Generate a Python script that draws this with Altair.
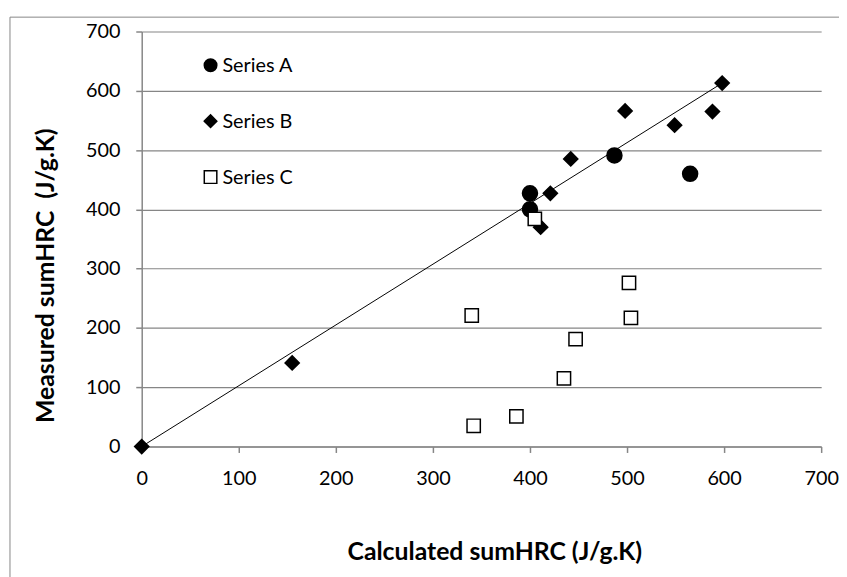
import altair as alt
import pandas as pd

# ---- data ----
series_names = ["Series A", "Series B", "Series C"]
series_shapes = ["circle", "diamond", "square"]
series_fills = ["#000000", "#000000", "#ffffff"]
a_x = [400, 400, 487, 565]
a_y = [427, 400, 491, 460]
b_x = [0, 155, 411, 421, 442, 498, 549, 588, 598]
b_y = [0, 141, 370, 427, 485, 566, 542, 565, 613]
c_x = [405, 340, 342, 386, 435, 447, 502, 504]
c_y = [384, 221, 35, 51, 115, 181, 276, 217]
line_x = [0, 598]
line_y = [0, 613]
tick_values = [0, 100, 200, 300, 400, 500, 600, 700]

rows = []
for name, xs, ys in zip(series_names, [a_x, b_x, c_x], [a_y, b_y, c_y]):
    for xv, yv in zip(xs, ys):
        rows.append({"series": name, "x": xv, "y": yv})
df = pd.DataFrame(rows)
line_df = pd.DataFrame({"x": line_x, "y": line_y})
legend_df = pd.DataFrame({"series": series_names})

FONT = "Lato"
GRAY = "#868686"

x_enc = alt.X(
    "x:Q",
    scale=alt.Scale(domain=[0, 700], nice=False, zero=True),
    axis=alt.Axis(
        values=tick_values, grid=False, title="Calculated sumHRC (J/g.K)",
        tickSize=6, labelPadding=16, labelFlush=False, titleX=356, titleY=106,
        titleBaseline="middle", titleAnchor="middle",
    ),
)
y_enc = alt.Y(
    "y:Q",
    scale=alt.Scale(domain=[0, 700], nice=False, zero=True),
    axis=alt.Axis(
        values=tick_values, grid=True, title="Measured sumHRC\u00a0 (J/g.K)",
        tickSize=6, labelPadding=16, labelFlush=False, titleX=-97, titleY=246,
        titleBaseline="middle", titleAnchor="middle",
    ),
)

shape_scale = alt.Scale(domain=series_names, range=series_shapes)
fill_scale = alt.Scale(domain=series_names, range=series_fills)

frame = alt.Chart(pd.DataFrame({"k": [0]})).mark_rect(
    fill=None, stroke=GRAY, strokeWidth=1, clip=False
).encode(
    x=alt.value(-133), x2=alt.value(900), y=alt.value(-14.5), y2=alt.value(700)
)

line = alt.Chart(line_df).mark_line(color="black", strokeWidth=1).encode(
    x=x_enc, y=y_enc
)

points = alt.Chart(df).mark_point(filled=True, opacity=1, strokeWidth=1.5).encode(
    x=alt.X("x:Q"),
    y=alt.Y("y:Q"),
    shape=alt.Shape("series:N", scale=shape_scale, legend=None),
    fill=alt.Fill("series:N", scale=fill_scale, legend=None),
    size=alt.Size(
        "series:N",
        scale=alt.Scale(domain=series_names, range=[230, 180, 256]),
        legend=None,
    ),
    stroke=alt.value("black"),
)

main = alt.layer(frame, line, points)

legend_y = alt.Y(
    "series:N",
    scale=alt.Scale(type="point", domain=series_names, range=[34, 147], padding=0),
    axis=None,
)

legend_sym = alt.Chart(legend_df).mark_point(
    filled=True, opacity=1, strokeWidth=1.5, size=160, stroke="black"
).encode(
    x=alt.value(69.5),
    y=legend_y,
    shape=alt.Shape("series:N", scale=shape_scale, legend=None),
    fill=alt.Fill("series:N", scale=fill_scale, legend=None),
)

legend_txt = alt.Chart(legend_df).mark_text(
    align="left", baseline="middle", font=FONT, fontSize=20, color="black", dy=1
).encode(
    x=alt.value(81.5),
    y=legend_y,
    text="series:N",
)

legend_layer = alt.layer(legend_sym, legend_txt)

chart = alt.layer(main, legend_layer).resolve_scale(
    y="independent"
).properties(
    width=686, height=419,
    autosize=alt.AutoSizeParams(type="none"),
    padding={"left": 135, "top": 21, "right": 18, "bottom": 129},
).configure_view(strokeWidth=0).configure_axis(
    domainColor=GRAY, tickColor=GRAY, gridColor=GRAY,
    domainWidth=1.5, tickWidth=1.5, gridWidth=1.2,
    labelFont=FONT, labelFontSize=20, labelColor="black",
    titleFont=FONT, titleFontSize=25, titleFontWeight="bold", titleColor="black",
)

chart.save("out.html", embed_options={"renderer": "svg", "actions": False})
